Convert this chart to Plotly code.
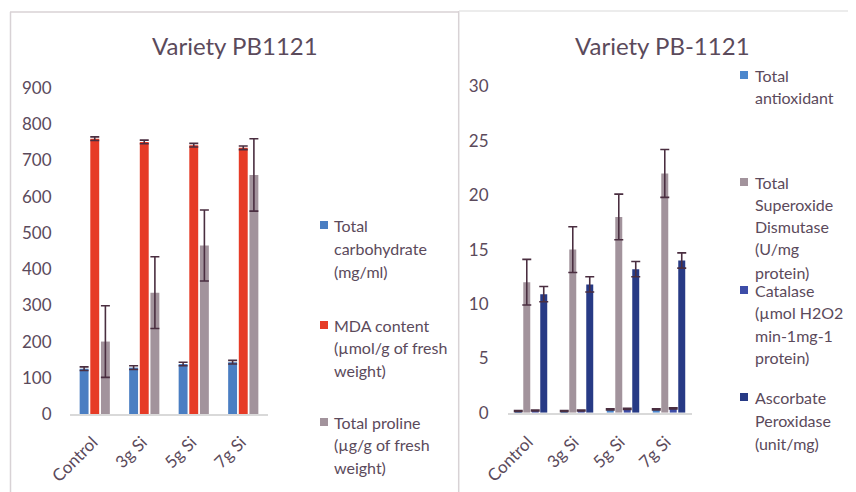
import plotly.graph_objects as go

W, H = 856, 492
OFF = 8  # page body margin in the viewer

categories = ["Control", "3g Si", "5g Si", "7g Si"]

# Left chart: Variety PB1121
carbohydrate = [125, 128, 138, 143]
carbohydrate_err = [5, 5, 5, 5]
mda = [760, 751, 742, 735]
mda_err = [5, 5, 5, 5]
proline = [200, 335, 465, 660]
proline_err = [99, 99, 98, 100]

# Right chart: Variety PB-1121
antioxidant = [0.15, 0.15, 0.3, 0.3]
antioxidant_err = [0.05, 0.05, 0.05, 0.05]
sod = [12, 15, 18, 22]
sod_err = [2.1, 2.1, 2.1, 2.2]
catalase = [0.2, 0.2, 0.35, 0.4]
catalase_err = [0.05, 0.05, 0.05, 0.05]
apx = [10.9, 11.8, 13.2, 14.0]
apx_err = [0.7, 0.7, 0.7, 0.7]

left_names = [["Total", "carbohydrate", "(mg/ml)"],
              ["MDA content", "(µmol/g of fresh", "weight)"],
              ["Total proline", "(µg/g of fresh", "weight)"]]
right_names = [["Total", "antioxidant"],
               ["Total", "Superoxide", "Dismutase", "(U/mg", "protein)"],
               ["Catalase", "(µmol H2O2", "min-1mg-1", "protein)"],
               ["Ascorbate", "Peroxidase", "(unit/mg)"]]

TXT = "#5B4A5B"
ERR = "#4A2E40"
FONT = "Lato"

def px(x):
    return (x - OFF) / W

def py(y):
    return 1 - (y - OFF) / H

fig = go.Figure()

left_series = [(carbohydrate, carbohydrate_err, "#4A7EC2"),
               (mda, mda_err, "#E63B26"),
               (proline, proline_err, "#A2939C")]
left_w = 0.18
left_centers = [-0.215, 0.0, 0.215]
for (vals, errs, col), c in zip(left_series, left_centers):
    fig.add_trace(go.Bar(
        x=categories, y=vals, xaxis="x", yaxis="y",
        marker=dict(color=col, line=dict(width=0)),
        width=left_w, offset=c - left_w / 2,
        error_y=dict(type="data", array=errs, color=ERR, thickness=1.6, width=4.5),
        showlegend=False))

right_series = [(antioxidant, antioxidant_err, "#4C87CD"),
                (sod, sod_err, "#A2939C"),
                (catalase, catalase_err, "#3D4DA8"),
                (apx, apx_err, "#273A85")]
right_w = 0.152
right_centers = [-0.277, -0.092, 0.092, 0.277]
for (vals, errs, col), c in zip(right_series, right_centers):
    fig.add_trace(go.Bar(
        x=categories, y=vals, xaxis="x2", yaxis="y2",
        marker=dict(color=col, line=dict(width=0)),
        width=right_w, offset=c - right_w / 2,
        error_y=dict(type="data", array=errs, color=ERR, thickness=1.6, width=4.5),
        showlegend=False))

axis_font = dict(family=FONT, size=17, color=TXT)
clear = "rgba(0,0,0,0)"
fig.update_layout(
    width=W, height=H, autosize=False,
    margin=dict(l=0, r=0, t=0, b=0, pad=0, autoexpand=False),
    paper_bgcolor="white", plot_bgcolor="white",
    barmode="overlay",
    showlegend=False,
    xaxis=dict(domain=[px(70), px(268)], anchor="y", showgrid=False, automargin=False,
               showline=True, linecolor="#D9D9D9", linewidth=1.5,
               tickangle=-45, tickfont=axis_font,
               ticks="outside", ticklen=10, tickcolor=clear, ticklabelshift=-2),
    yaxis=dict(domain=[py(414), py(88)], anchor="x", range=[0, 900], automargin=False,
               dtick=100, showgrid=False, showline=False, zeroline=False,
               tickfont=axis_font, ticks="outside", ticklen=14, tickcolor=clear),
    xaxis2=dict(domain=[px(508), px(692)], anchor="y2", showgrid=False, automargin=False,
                showline=True, linecolor="#D9D9D9", linewidth=1.5,
                tickangle=-45, tickfont=axis_font,
                ticks="outside", ticklen=11, tickcolor=clear, ticklabelshift=-3),
    yaxis2=dict(domain=[py(412.7), py(86.5)], anchor="x2", range=[0, 30], automargin=False,
                dtick=5, showgrid=False, showline=False, zeroline=False,
                tickfont=axis_font, ticks="outside", ticklen=15, tickcolor=clear),
)

# titles
fig.add_annotation(text="Variety PB1121", x=px(235), y=py(45), xref="paper", yref="paper",
                   showarrow=False, xanchor="center", yanchor="middle",
                   font=dict(family=FONT, size=24, color=TXT))
fig.add_annotation(text="Variety PB-1121", x=px(662), y=py(45), xref="paper", yref="paper",
                   showarrow=False, xanchor="center", yanchor="middle",
                   font=dict(family=FONT, size=24, color=TXT))

def add_legend(series, names, sq_x, txt_x, line_ys):
    for (vals, errs, col), lines, ys in zip(series, names, line_ys):
        sy = ys[0]
        fig.add_shape(type="rect", xref="paper", yref="paper",
                      x0=px(sq_x), x1=px(sq_x + 8), y0=py(sy + 4), y1=py(sy - 4),
                      fillcolor=col, line=dict(width=0))
        for line, y in zip(lines, ys):
            fig.add_annotation(text=line, x=px(txt_x), y=py(y), xref="paper", yref="paper",
                               showarrow=False, xanchor="left", yanchor="middle", align="left",
                               font=dict(family=FONT, size=16, color=TXT))

add_legend(left_series, left_names, 320, 332,
           [[225, 248, 271], [325, 347, 370], [422, 444, 467]])
add_legend(right_series, right_names, 740, 753,
           [[75, 97], [182, 204, 226, 248, 272], [290, 312, 335, 357], [397, 420, 443]])

# panel borders
border = dict(color="#D8D2D5", width=1.5)
fig.add_shape(type="line", xref="paper", yref="paper", x0=px(10.5), x1=px(10.5),
              y0=py(12), y1=py(500), line=border)
fig.add_shape(type="line", xref="paper", yref="paper", x0=px(10), x1=px(459),
              y0=py(12), y1=py(12), line=border)
fig.add_shape(type="line", xref="paper", yref="paper", x0=px(458.7), x1=px(458.7),
              y0=py(11), y1=py(500), line=border)
fig.add_shape(type="line", xref="paper", yref="paper", x0=px(459), x1=px(870),
              y0=py(11), y1=py(11), line=dict(color="#E6E6E6", width=1.5))

fig.write_html("out.html")
